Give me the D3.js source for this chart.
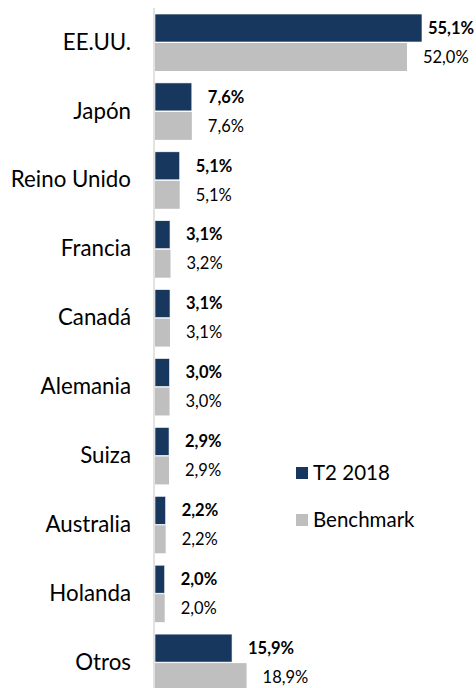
<!DOCTYPE html>
<html>
<head>
<meta charset="utf-8">
<script src="https://cdn.jsdelivr.net/npm/d3@7.9.0/dist/d3.min.js"></script>
<style>
  body { margin: 0; background: #fff; }
  svg { display: block; font-family: Lato, "Open Sans", sans-serif; }
</style>
</head>
<body>
<svg id="chart" width="476" height="688"></svg>
<script>
// data
const categories = ['EE.UU.', 'Japón', 'Reino Unido', 'Francia', 'Canadá', 'Alemania', 'Suiza', 'Australia', 'Holanda', 'Otros'];
const seriesNames = ['T2 2018', 'Benchmark'];
const t2_2018 = [55.1, 7.6, 5.1, 3.1, 3.1, 3.0, 2.9, 2.2, 2.0, 15.9];
const benchmark = [52.0, 7.6, 5.1, 3.2, 3.1, 3.0, 2.9, 2.2, 2.0, 18.9];

const colors = ['#17375e', '#bfbfbf'];
const W = 476, H = 688;
const svg = d3.select('#chart');

// scales
const x = d3.scaleLinear().domain([0, 55.1]).range([155, 422]);
const y = d3.scaleBand().domain(categories).range([2.1, 703]).padding(0.173);
const ySub = d3.scaleBand().domain(seriesNames).range([0, y.bandwidth()]).paddingInner(0.035);

const fmt = v => d3.format('.1f')(v).replace('.', ',') + '%';

// rows: one group per category
const rows = categories.map((c, i) => ({ cat: c, vals: [t2_2018[i], benchmark[i]] }));

const g = svg.selectAll('g.row').data(rows).join('g')
  .attr('class', 'row')
  .attr('transform', d => `translate(0,${y(d.cat)})`);

g.selectAll('rect').data(d => d.vals.map((v, k) => ({ v, k }))).join('rect')
  .attr('x', x(0))
  .attr('y', d => ySub(seriesNames[d.k]))
  .attr('width', d => x(d.v) - x(0))
  .attr('height', ySub.bandwidth())
  .attr('fill', d => colors[d.k])
  .attr('stroke', d => d.k === 0 ? '#ffffff' : 'none')
  .attr('stroke-width', 0.6);

g.selectAll('text.val').data(d => d.vals.map((v, k) => ({ v, k }))).join('text')
  .attr('class', 'val')
  .attr('y', d => ySub(seriesNames[d.k]) + ySub.bandwidth() / 2)
  .attr('dy', '0.35em')
  .attr('font-size', 16.5)
  .attr('font-weight', d => d.k === 0 ? 'bold' : 'normal')
  .attr('fill', '#000')
  .text(d => fmt(d.v))
  .attr('x', function(d) {
    const w = this.getComputedTextLength();
    return Math.min(x(d.v) + 16, W - 2 - w);
  });

// category axis
const axis = svg.append('g')
  .attr('transform', 'translate(154,0)')
  .call(d3.axisLeft(y).tickSize(0).tickPadding(23));
axis.select('.domain').attr('stroke', '#d9d9d9').attr('stroke-width', 1.5)
  .attr('d', 'M0,8V' + H);
axis.selectAll('text')
  .attr('font-size', 22.3)
  .attr('font-family', 'Lato, "Open Sans", sans-serif')
  .attr('fill', '#000');

// legend
const legend = svg.append('g').attr('transform', 'translate(296,467)');
const li = legend.selectAll('g').data(seriesNames).join('g')
  .attr('transform', (d, i) => `translate(0,${i * 47})`);
li.append('rect').attr('width', 12).attr('height', 12).attr('fill', (d, i) => colors[i]);
li.append('text').attr('x', 17).attr('y', 6).attr('dy', '0.35em')
  .attr('font-size', 20.5).attr('fill', '#000').text(d => d);
</script>
</body>
</html>
